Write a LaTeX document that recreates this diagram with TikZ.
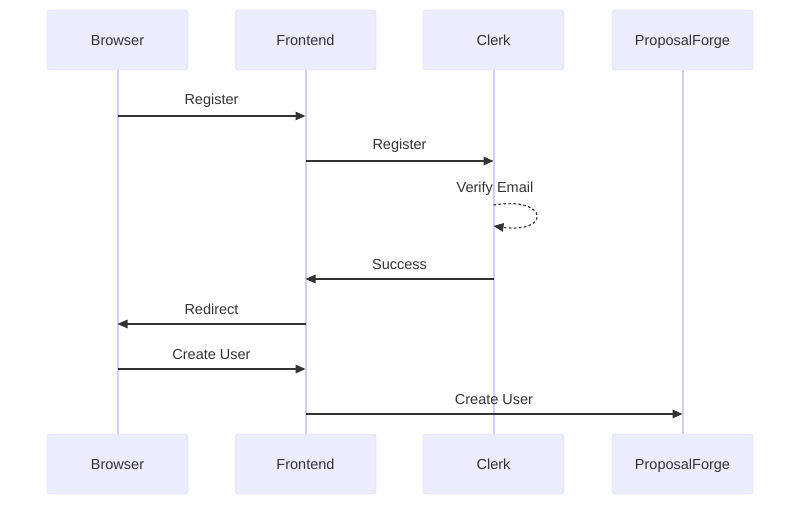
\documentclass[tikz,border=0pt]{standalone}
\usepackage{fontspec}
\setmainfont{Liberation Sans}
\usepackage{xcolor}
\usetikzlibrary{arrows.meta}
\definecolor{actfill}{HTML}{ECECFF}
\definecolor{actline}{HTML}{D8CCF5}
\definecolor{ink}{HTML}{333333}
\tikzset{
  actor/.style={draw=actline,fill=actfill,rounded corners=3pt,minimum width=141pt,minimum height=60pt,text height=14.5pt,text depth=3pt,text=ink,font=\fontsize{14.5}{16}\selectfont},
  lifeline/.style={actline,line width=2pt},
  msg/.style={ink,line width=1.2pt,-{Triangle[length=10pt,width=8.5pt]}},
  msglabel/.style={text=ink,font=\fontsize{14.5}{16}\selectfont}
}
\begin{document}
\begin{tikzpicture}[x=1pt,y=-1pt]
\useasboundingbox (0,0) rectangle (800,510);
% Actors, top and bottom, with lifelines
\foreach \n/\x/\t in {brw/117.5/Browser, fe/305.5/Frontend, clk/493.5/Clerk, pf/682.5/ProposalForge}{
  \draw[lifeline] (\x,70) -- (\x,434);
  \node[actor] (\n top) at (\x,40) {\t};
  \node[actor] (\n bot) at (\x,464) {\t};
}
% Messages
\coordinate (m1a) at (117.5,116); \coordinate (m1b) at (305.5,116);
\draw[msg] (m1a) -- (m1b) node[msglabel,midway,above=5pt] {Register};
\coordinate (m2a) at (305.5,161); \coordinate (m2b) at (493.5,161);
\draw[msg] (m2a) -- (m2b) node[msglabel,midway,above=5pt] {Register};
% Self message
\coordinate (v1) at (493.5,205); \coordinate (v2) at (493.5,226);
\node[msglabel] (verify) at (495,189) {Verify Email};
\draw[msg,dash pattern=on 2.5pt off 2.5pt] (v1) .. controls (550,196) and (550,234) .. (v2);
\coordinate (m3a) at (493.5,279); \coordinate (m3b) at (305.5,279);
\draw[msg] (m3a) -- (m3b) node[msglabel,midway,above=5pt] {Success};
\coordinate (m4a) at (305.5,324); \coordinate (m4b) at (117.5,324);
\draw[msg] (m4a) -- (m4b) node[msglabel,midway,above=5pt] {Redirect};
\coordinate (m5a) at (117.5,369); \coordinate (m5b) at (305.5,369);
\draw[msg] (m5a) -- (m5b) node[msglabel,midway,above=5pt] {Create User};
\coordinate (m6a) at (305.5,414); \coordinate (m6b) at (682.5,414);
\draw[msg] (m6a) -- (m6b) node[msglabel,midway,above=5pt] {Create User};
\end{tikzpicture}
\end{document}
